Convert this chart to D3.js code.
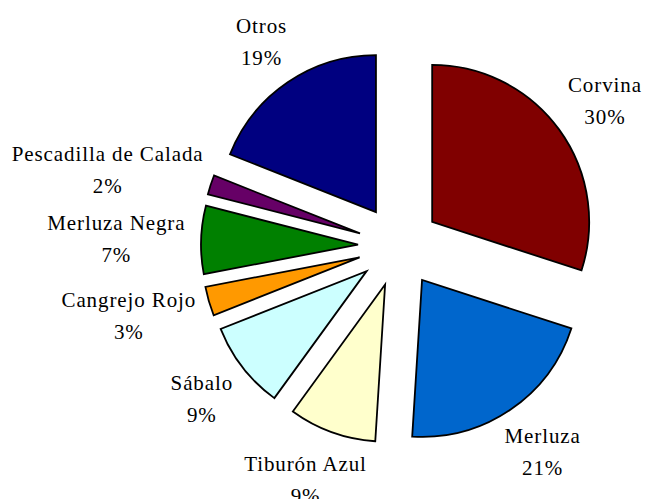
<!DOCTYPE html>
<html>
<head>
<meta charset="utf-8">
<script src="https://cdn.jsdelivr.net/npm/d3@7"></script>
<style>
  body { margin: 0; background: #fff; }
  svg { display: block; }
</style>
</head>
<body>
<main></main>
<script>
let svgWidth  = 653;
let svgHeight = 499;

const categories = ['Corvina', 'Merluza', 'Tiburón Azul', 'Sábalo', 'Cangrejo Rojo',
                    'Merluza Negra', 'Pescadilla de Calada', 'Otros'];
const values     = [30, 21, 9, 9, 3, 7, 2, 19];
const colors     = ['#800000', '#0066CC', '#FFFFCC', '#CCFFFF', '#FF9900',
                    '#008000', '#660066', '#000080'];

let cx = 399;
let cy = 246;
let radius  = 157;
let explode = 41;
let labelGap = 24;
let lineStep = 32;

var svg = d3.select('body main')
  .append('svg')
  .attr('width', svgWidth)
  .attr('height', svgHeight);

var data = categories.map(function(c, i) {
  return { name: c, value: values[i], color: colors[i] };
});
var total = d3.sum(values);

var pie = d3.pie()
  .sort(null)
  .value(function(d) { return d.value; });

var arc = d3.arc()
  .innerRadius(0)
  .outerRadius(radius);

var arcs = pie(data);

function midAngle(d) { return (d.startAngle + d.endAngle) / 2; }

var g = svg.append('g')
  .attr('transform', 'translate(' + cx + ',' + cy + ')');

g.selectAll('path')
  .data(arcs)
  .enter()
    .append('path')
      .attr('d', arc)
      .attr('fill', function(d) { return d.data.color; })
      .attr('stroke', 'black')
      .attr('stroke-width', 1.8)
      .attr('stroke-linejoin', 'miter')
      .attr('transform', function(d) {
        var a = midAngle(d);
        return 'translate(' + (explode * Math.sin(a)) + ',' + (-explode * Math.cos(a)) + ')';
      });

// labels: name + percent, box pushed outward along the mid angle
var labels = g.selectAll('g.label')
  .data(arcs)
  .enter()
    .append('g')
      .attr('class', 'label');

labels.each(function(d) {
  var lg = d3.select(this);
  var t1 = lg.append('text').text(d.data.name);
  var t2 = lg.append('text').text(Math.round(d.data.value / total * 100) + '%');
  lg.selectAll('text')
    .style('font-family', "'Liberation Serif'")
    .style('font-size', '21px')
    .style('letter-spacing', '0.9px')
    .attr('text-anchor', 'middle')
    .attr('fill', 'black');

  var w = Math.max(t1.node().getComputedTextLength(), t2.node().getComputedTextLength());
  var h = 52;
  var a = midAngle(d);
  var R = explode + radius + labelGap;
  var px = R * Math.sin(a) + Math.sin(a) * w * 0.44;
  var py = -R * Math.cos(a) - Math.cos(a) * h / 2;

  t1.attr('x', px).attr('y', py - 8);
  t2.attr('x', px).attr('y', py - 8 + lineStep);
});
</script>
</body>
</html>
